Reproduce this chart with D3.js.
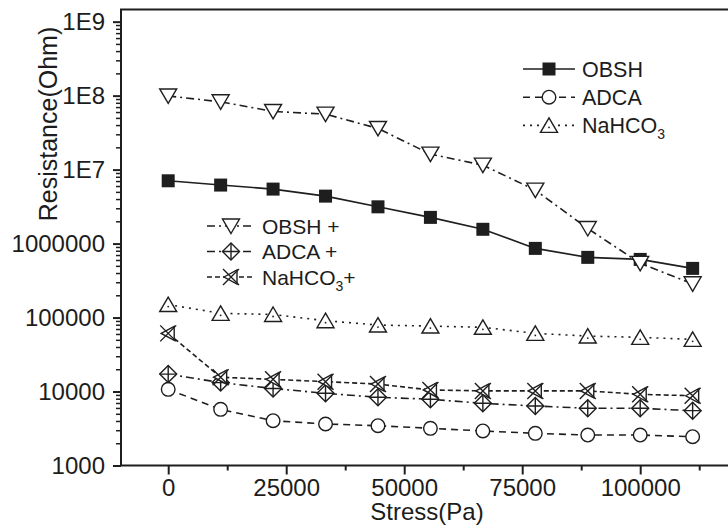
<!DOCTYPE html>
<html><head><meta charset="utf-8">
<script src="https://cdn.jsdelivr.net/npm/d3@7"></script>
<style>body{margin:0;background:#fff}svg{display:block}text{font-family:"Liberation Sans",Arial,sans-serif;fill:#1c1c1c}</style>
</head><body><svg id="c" width="728" height="528"></svg>
<script>
const stress = [0, 11111, 22222, 33333, 44444, 55556, 66667, 77778, 88889, 100000, 111111];
const obsh      = [7.06e6, 6.18e6, 5.45e6, 4.38e6, 3.14e6, 2.26e6, 1.56e6, 8.61e5, 6.51e5, 6.11e5, 4.62e5];
const adca      = [1.07e4, 5.74e3, 4.03e3, 3.64e3, 3.45e3, 3.18e3, 2.93e3, 2.72e3, 2.58e3, 2.58e3, 2.45e3];
const nahco3    = [1.50e5, 1.14e5, 1.10e5, 9.06e4, 7.92e4, 7.67e4, 7.38e4, 6.11e4, 5.62e4, 5.40e4, 5.07e4];
const obshPlus  = [9.9e7, 8.25e7, 6.11e7, 5.62e7, 3.60e7, 1.62e7, 1.15e7, 5.28e6, 1.60e6, 5.40e5, 2.86e5];
const adcaPlus  = [1.72e4, 1.32e4, 1.10e4, 9.46e3, 8.36e3, 7.86e3, 6.93e3, 6.37e3, 5.93e3, 5.93e3, 5.51e3];
const nahco3Plus= [6.11e4, 1.56e4, 1.46e4, 1.36e4, 1.26e4, 1.05e4, 1.02e4, 1.02e4, 1.02e4, 9.16e3, 8.77e3];
const xTicks = [0, 25000, 50000, 75000, 100000];
const xMinor = [12500, 37500, 62500, 87500, 112500];
const yTicks = [1e3, 1e4, 1e5, 1e6, 1e7, 1e8, 1e9];
const yTickLabels = ["1000", "10000", "100000", "1000000", "1E7", "1E8", "1E9"];
const xTitle = "Stress(Pa)";
const yTitle = "Resistance(Ohm)";

const series = [
  {name:"OBSH", sub:null, suffix:"", vals:obsh, marker:"square", dash:null, legend:1},
  {name:"ADCA", sub:null, suffix:"", vals:adca, marker:"circle", dash:"7,5", legend:1},
  {name:"NaHCO", sub:"3", suffix:"", vals:nahco3, marker:"triUp", dash:"2,5", legend:1},
  {name:"OBSH +", sub:null, suffix:"", vals:obshPlus, marker:"triDown", dash:"8,4,2,4", legend:2},
  {name:"ADCA +", sub:null, suffix:"", vals:adcaPlus, marker:"diamondCross", dash:"8,4,2,4", legend:2},
  {name:"NaHCO", sub:"3", suffix:"+", vals:nahco3Plus, marker:"xTri", dash:"5,3", legend:2}
];

const svg = d3.select("#c");
const ink = "#1e1e1e";
const x = d3.scaleLinear().domain([-10000, 120000]).range([121, 734.6]);
const y = d3.scaleLog().domain([1000, 1.46e9]).range([465.5, 9.5]);

// frame
svg.append("path").attr("d", `M${x.range()[0]},${y.range()[0]}V${y.range()[1]}H${x.range()[1]}V${y.range()[0]}Z`)
  .attr("fill","none").attr("stroke",ink).attr("stroke-width",2);

// x axis
const xAxis = svg.append("g").attr("transform",`translate(0,${y.range()[0]})`)
  .call(d3.axisBottom(x).tickValues(xTicks).tickFormat(d3.format("d")).tickSize(9).tickPadding(4));
xAxis.select(".domain").remove();
xAxis.selectAll("line").attr("stroke",ink).attr("stroke-width",2);
xAxis.selectAll("text").attr("font-size",24).attr("font-family","Liberation Sans, Arial").attr("fill","#1c1c1c");
svg.append("g").attr("transform",`translate(0,${y.range()[0]})`)
  .call(d3.axisBottom(x).tickValues(xMinor).tickFormat("").tickSize(5))
  .call(g=>g.select(".domain").remove())
  .selectAll("line").attr("stroke",ink).attr("stroke-width",2);

// y axis
const yMinor = [];
for (let e = 3; e <= 8; e++) for (let m = 2; m <= 9; m++) yMinor.push(m * Math.pow(10, e));
const yAxis = svg.append("g").attr("transform",`translate(${x.range()[0]},0)`)
  .call(d3.axisLeft(y).tickValues(yTicks).tickFormat((d,i)=>yTickLabels[i]).tickSize(8).tickPadding(8));
yAxis.select(".domain").remove();
yAxis.selectAll("line").attr("stroke",ink).attr("stroke-width",2);
yAxis.selectAll("text").attr("font-size",24).attr("font-family","Liberation Sans, Arial").attr("fill","#1c1c1c");
svg.append("g").attr("transform",`translate(${x.range()[0]},0)`)
  .call(d3.axisLeft(y).tickValues(yMinor).tickFormat("").tickSize(5))
  .call(g=>g.select(".domain").remove())
  .selectAll("line").attr("stroke",ink).attr("stroke-width",1.5);

// titles
svg.append("text").attr("x",427).attr("y",520).attr("text-anchor","middle").attr("font-size",24).text(xTitle);
svg.append("text").attr("transform","translate(57,124) rotate(-90)").attr("text-anchor","middle").attr("font-size",25).text(yTitle);

// markers
function drawMarker(g, type) {
  const sw = 1.4;
  if (type === "square") {
    g.append("rect").attr("x",-6.5).attr("y",-6.5).attr("width",13).attr("height",13).attr("fill",ink);
  } else if (type === "circle") {
    g.append("circle").attr("r",6.8).attr("fill","#fff").attr("stroke",ink).attr("stroke-width",sw);
  } else if (type === "triUp") {
    g.append("path").attr("d","M0,-7.5L8.5,7L-8.5,7Z").attr("fill","#fff").attr("stroke",ink).attr("stroke-width",sw);
    g.append("circle").attr("cy",2).attr("r",0.9).attr("fill",ink);
  } else if (type === "triDown") {
    g.append("path").attr("d","M0,7.5L8.5,-7L-8.5,-7Z").attr("fill","#fff").attr("stroke",ink).attr("stroke-width",sw);
  } else if (type === "diamondCross") {
    g.append("path").attr("d","M0,-8.5L8.5,0L0,8.5L-8.5,0Z").attr("fill","#fff").attr("stroke",ink).attr("stroke-width",sw);
    g.append("path").attr("d","M0,-8.5V8.5M-8.5,0H8.5").attr("stroke",ink).attr("stroke-width",sw);
  } else if (type === "xTri") {
    g.append("path").attr("d","M-7,0L6,-7L6,7Z").attr("fill","#fff").attr("stroke",ink).attr("stroke-width",sw);
    g.append("path").attr("d","M-8,-8L8,8M-8,8L8,-8").attr("stroke",ink).attr("stroke-width",sw);
  }
}

const line = d3.line().x(d=>x(d[0])).y(d=>y(d[1]));
series.forEach(s => {
  const pts = stress.map((v,i)=>[v, s.vals[i]]);
  svg.append("path").attr("d", line(pts)).attr("fill","none").attr("stroke",ink)
    .attr("stroke-width",1.6).attr("stroke-dasharray", s.dash);
});
series.forEach(s => {
  stress.forEach((v,i) => {
    const g = svg.append("g").attr("transform",`translate(${x(v)},${y(s.vals[i])})`);
    drawMarker(g, s.marker);
  });
});

// legends
const leg = {
  1: {x0:523, x1:575, mx:549, tx:582, y0:69, dy:28.2, fs:21.5},
  2: {x0:207, x1:255, mx:231, tx:262, y0:226, dy:25.5, fs:21}
};
const counters = {1:0, 2:0};
series.forEach(s => {
  const L = leg[s.legend];
  const yy = L.y0 + L.dy * counters[s.legend]++;
  svg.append("line").attr("x1",L.x0).attr("x2",L.x1).attr("y1",yy).attr("y2",yy)
    .attr("stroke",ink).attr("stroke-width",1.6).attr("stroke-dasharray", s.dash);
  drawMarker(svg.append("g").attr("transform",`translate(${L.mx},${yy})`), s.marker);
  const t = svg.append("text").attr("x",L.tx).attr("y",yy + L.fs*0.36).attr("font-size",L.fs);
  t.append("tspan").text(s.name);
  if (s.sub) {
    t.append("tspan").attr("font-size",14).attr("dy",6).text(s.sub);
    if (s.suffix) t.append("tspan").attr("dy",-6).attr("font-size",L.fs).text(s.suffix);
  }
});
</script></body></html>
